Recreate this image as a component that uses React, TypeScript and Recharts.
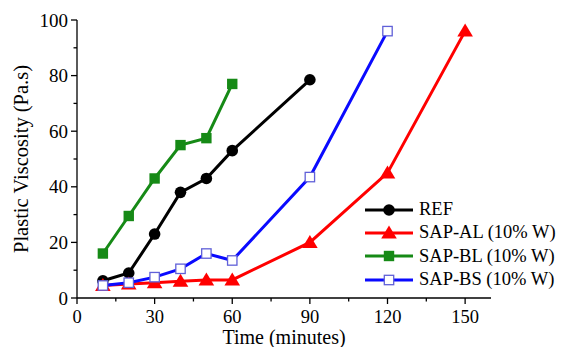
import React from "react";
import { LineChart, Line, XAxis, YAxis } from "recharts";

const refTime = [10, 20, 30, 40, 50, 60, 90];
const refVal = [6.2, 9, 23, 38, 43, 53, 78.5];
const alTime = [10, 20, 30, 40, 50, 60, 90, 120, 150];
const alVal = [4.5, 5, 5.5, 6, 6.5, 6.5, 20, 45, 96];
const blTime = [10, 20, 30, 40, 50, 60];
const blVal = [16, 29.5, 43, 55, 57.5, 77];
const bsTime = [10, 20, 30, 40, 50, 60, 90, 120];
const bsVal = [4.5, 5.5, 7.5, 10.5, 16, 13.5, 43.5, 96];

const xTicks = [0, 15, 30, 45, 60, 75, 90, 105, 120, 135, 150];
const yTicks = [0, 10, 20, 30, 40, 50, 60, 70, 80, 90, 100];

const seriesNames = ["REF", "SAP-AL (10% W)", "SAP-BL (10% W)", "SAP-BS (10% W)"];

const toData = (t: number[], v: number[]) => t.map((x, i) => ({ x, y: v[i] }));

const FONT = '"Liberation Serif", "Times New Roman", serif';

const C_REF = "#000000";
const C_AL = "#ff0000";
const C_BL = "#168a16";
const C_BS = "#0a0aff";

const Marker = ({ kind, cx, cy }: { kind: string; cx: number; cy: number }) => {
  if (kind === "circle") return <circle cx={cx} cy={cy} r={5.8} fill={C_REF} />;
  if (kind === "tri")
    return (
      <polygon
        points={`${cx},${cy - 7.5} ${cx - 7.8},${cy + 5.5} ${cx + 7.8},${cy + 5.5}`}
        fill={C_AL}
      />
    );
  if (kind === "sq") return <rect x={cx - 5.2} y={cy - 5.2} width={10.4} height={10.4} fill={C_BL} />;
  return <rect x={cx - 4.7} y={cy - 4.7} width={9.4} height={9.4} fill="#ffffff" stroke="#6060d8" strokeWidth={1.3} />;
};

const dotFn = (kind: string) => (p: any) =>
  <Marker key={`${kind}-${p.index}`} kind={kind} cx={p.cx} cy={p.cy} />;

const textStyle = { fontFamily: FONT, fontSize: 19, fill: "#000" };

const XTick = (p: any) => {
  const { x, y, payload } = p;
  const major = payload.value % 30 === 0;
  return (
    <g>
      <line x1={x} x2={x} y1={y} y2={y + (major ? 6 : 3.5)} stroke="#000" strokeWidth={1.3} />
      {major && (
        <text x={x} y={y + 25} textAnchor="middle" style={{ ...textStyle, fontSize: 18.5 }}>
          {payload.value}
        </text>
      )}
    </g>
  );
};

const YTick = (p: any) => {
  const { x, y, payload } = p;
  const major = payload.value % 20 === 0;
  return (
    <g>
      <line x1={x} x2={x - (major ? 6 : 3.5)} y1={y} y2={y} stroke="#000" strokeWidth={1.3} />
      {major && (
        <text x={x - 9} y={y + 6.5} textAnchor="end" style={textStyle}>
          {payload.value}
        </text>
      )}
    </g>
  );
};

const legendItems = [
  { name: seriesNames[0], color: C_REF, kind: "circle" },
  { name: seriesNames[1], color: C_AL, kind: "tri" },
  { name: seriesNames[2], color: C_BL, kind: "sq" },
  { name: seriesNames[3], color: C_BS, kind: "hsq" },
];

const LegendBox = () => (
  <div style={{ position: "absolute", left: 363, top: 198, fontFamily: FONT, fontSize: 18.5, color: "#000", lineHeight: "23.3px" }}>
    {legendItems.map((it) => (
      <div key={it.name} style={{ display: "flex", alignItems: "center", height: 23.3 }}>
        <svg width={52} height={20} style={{ marginRight: 4 }}>
          <line x1={2} x2={50} y1={10} y2={10} stroke={it.color} strokeWidth={3} />
          <Marker kind={it.kind} cx={26} cy={10} />
        </svg>
        <span style={{ whiteSpace: "nowrap" }}>{it.name}</span>
      </div>
    ))}
  </div>
);

export default function App() {
  return (
    <div style={{ position: "absolute", left: 0, top: 0, width: 577, height: 347, background: "#fff", fontFamily: FONT }}>
      <LineChart width={577} height={347} margin={{ top: 20, right: 86, bottom: 0, left: 0 }} style={{ fontFamily: FONT }}>
        <XAxis
          type="number"
          dataKey="x"
          domain={[0, 160]}
          ticks={xTicks}
          interval={0}
          allowDuplicatedCategory={false}
          tickLine={false}
          tickSize={0}
          tickMargin={0}
          tick={<XTick />}
          height={49}
          axisLine={{ stroke: "#000", strokeWidth: 1.3 }}
          label={{
            value: "Time (minutes)",
            position: "insideBottom",
            offset: 3,
            fontFamily: FONT,
            fontSize: 20,
            fill: "#000",
            style: { fontFamily: FONT, fontSize: 20, fill: "#000" },
          }}
        />
        <YAxis
          type="number"
          dataKey="y"
          domain={[0, 100]}
          ticks={yTicks}
          interval={0}
          tickLine={false}
          tickSize={0}
          tickMargin={0}
          tick={<YTick />}
          width={77}
          axisLine={{ stroke: "#000", strokeWidth: 1.3 }}
          label={{
            value: "Plastic Viscosity (Pa.s)",
            angle: -90,
            position: "center",
            dx: -18,
            fontFamily: FONT,
            fontSize: 20.5,
            fill: "#000",
            style: { fontFamily: FONT, fontSize: 20.5, fill: "#000", textAnchor: "middle" },
          }}
        />
        <Line data={toData(refTime, refVal)} dataKey="y" name={seriesNames[0]} stroke={C_REF} strokeWidth={3} dot={dotFn("circle")} isAnimationActive={false} />
        <Line data={toData(alTime, alVal)} dataKey="y" name={seriesNames[1]} stroke={C_AL} strokeWidth={3} dot={dotFn("tri")} isAnimationActive={false} />
        <Line data={toData(blTime, blVal)} dataKey="y" name={seriesNames[2]} stroke={C_BL} strokeWidth={3} dot={dotFn("sq")} isAnimationActive={false} />
        <Line data={toData(bsTime, bsVal)} dataKey="y" name={seriesNames[3]} stroke={C_BS} strokeWidth={3} dot={dotFn("hsq")} isAnimationActive={false} />
      </LineChart>
      <LegendBox />
    </div>
  );
}
